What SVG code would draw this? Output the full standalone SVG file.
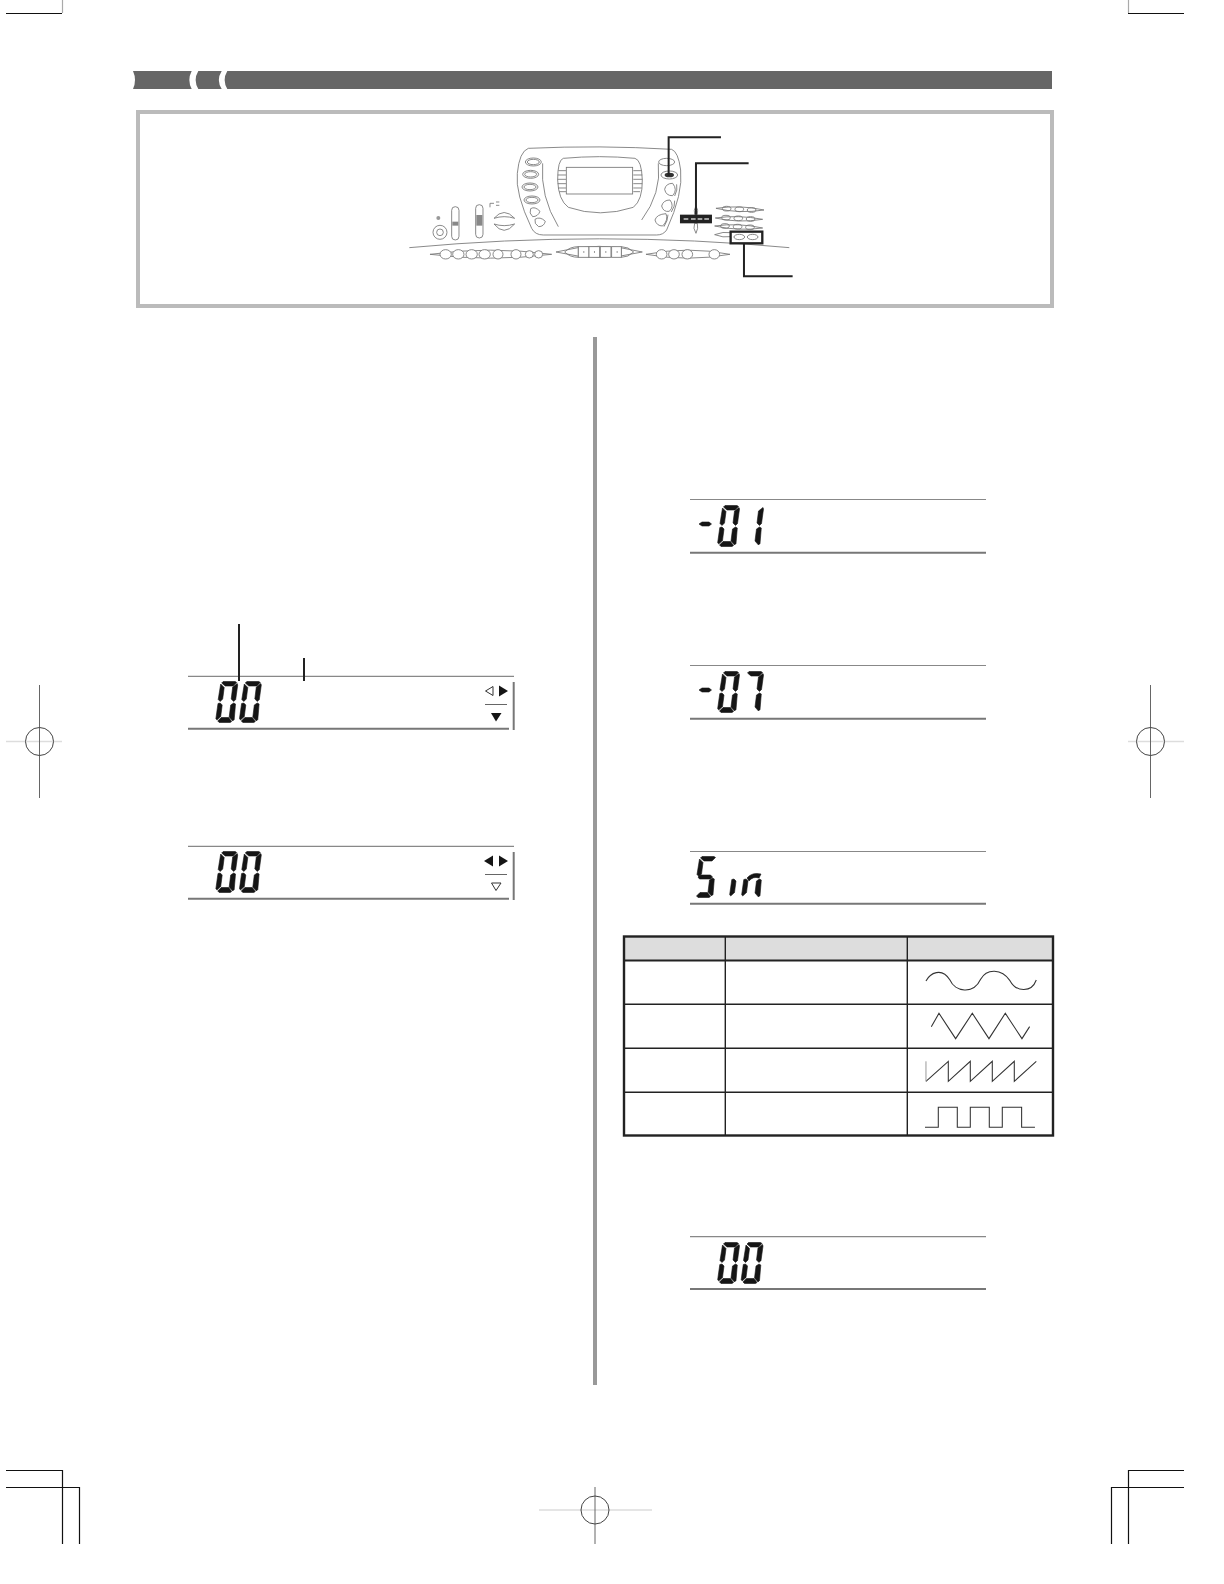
<svg xmlns="http://www.w3.org/2000/svg" width="1224" height="1584" viewBox="0 0 1224 1584">
<style>
.crop{fill:none;stroke:#111;stroke-width:1.2}
.reg{fill:none;stroke:#444;stroke-width:1}
.regl{stroke:#ddd;stroke-width:1.5}
.regv{stroke:#666;stroke-width:1}
.seg{fill:#151515;stroke:#151515;stroke-width:0.6}
.top{stroke:#888;stroke-width:1.2}
.bot{stroke:#777;stroke-width:2}
.kb{fill:none;stroke:#777;stroke-width:2.6}
.kbw{fill:#fff;stroke:#777;stroke-width:2.6}
.lead{fill:none;stroke:#222;stroke-width:6}
.cell{fill:none;stroke:#222;stroke-width:1.4}
.wave{fill:none;stroke:#333;stroke-width:3.2}
</style>
<defs>
<path id="sa" d="M7.5,0.5L19.5,0.5L21,1.5L17.5,5L9.5,5L6,2Z"/>
<path id="sf" d="M5,3L8.5,6.5L7,18L4.5,20.5L2.5,18.5Z"/>
<path id="sb" d="M21.5,2.5L22,4L20,18.5L18,20.5L15.5,18L17,6Z"/>
<path id="se" d="M2.3,22.5L4.5,22L6.5,24L5,35.5L1.2,39L0.2,37.5Z"/>
<path id="sc" d="M18,22L19.8,23L18.5,38.5L17,40L13.5,36L15,24Z"/>
<path id="sd" d="M2,40L5.5,36.5L13,36.5L16,40.5L14.5,41.5L3.5,41.5Z"/>
<path id="sg" d="M6,19L16,19L18,21L16,23L5,23L3.5,21Z"/>
<g id="d0" class="seg"><use href="#sa"/><use href="#sb"/><use href="#sc"/><use href="#sd"/><use href="#se"/><use href="#sf"/></g>
<g id="d1" class="seg"><use href="#sb"/><use href="#sc"/></g>
<g id="d7" class="seg"><use href="#sa"/><use href="#sb"/><use href="#sc"/></g>
<path id="minus" class="seg" d="M699,524L702,522L709,522L711.5,524L709,526L702,526Z"/>
</defs>

<g id="crop-marks">
<path class="crop" d="M6,13.5H62"/><path d="M62.5,0V13" stroke="#aaa" stroke-width="1.2"/>
<path class="crop" d="M1128,13.5H1184"/><path d="M1128.5,0V13" stroke="#aaa" stroke-width="1.2"/>
<path class="crop" d="M6,1470.5H62.5V1544M6,1487.5H79.5V1544"/>
<path class="crop" d="M1184,1470.5H1128.5V1544M1184,1487.5H1111.5V1544"/>
</g>
<g id="registration-marks">
<path class="regl" d="M6,741.5H62M1128,741.5H1184M539,1510H652"/>
<path class="regv" d="M39.5,685V798M1150.5,685V798M595,1487V1544"/>
<circle class="reg" cx="39.5" cy="741.5" r="14"/>
<circle class="reg" cx="1150.5" cy="741.5" r="14"/>
<circle class="reg" cx="595" cy="1510" r="14"/>
</g>

<g id="header-bar">
<rect x="133" y="71" width="919" height="18" fill="#666"/>
<path fill="#fff" d="M133,71Q137,80 133,89L132,89L132,71Z"/>
<path fill="#fff" d="M191.7,71Q187,80 191.7,89L198.3,89Q193,80 198.3,71Z"/>
<path fill="#fff" d="M221.7,71Q216,80 221.7,89L227.3,89Q222,80 227.3,71Z"/>
</g>

<rect id="panel" x="138" y="112" width="914" height="194" fill="#fff" stroke="#bbb" stroke-width="4"/>
<rect id="column-divider" x="593" y="337" width="4" height="1048" fill="#999"/>

<g id="keyboard" transform="translate(400,120) scale(0.3333)">
<path class="kb" d="M28,383Q600,330 1168,383"/>
<path class="kb" d="M385,85Q600,75 815,88Q835,95 842,150Q850,220 800,330Q790,345 770,345L430,345Q405,345 395,325Q345,220 352,160Q358,95 385,85Z"/>
<path class="kb" d="M490,115Q600,105 705,115Q725,120 727,180Q728,240 700,262Q600,295 505,262Q475,240 473,180Q473,120 490,115Z"/>
<rect class="kbw" x="499" y="142" width="199" height="80"/>
<path class="kb" d="M475,152H498M473,165H498M473,178H498M473,191H498M475,204H498M478,215H498M700,152H725M700,165H727M700,178H727M700,191H727M700,204H725M700,215H720"/>
<path class="kb" d="M428,130Q420,230 475,320M775,130Q785,220 725,300"/>
<g id="left-buttons">
<ellipse class="kb" cx="400" cy="126" rx="24" ry="12"/><ellipse class="kb" cx="400" cy="126" rx="18" ry="8"/>
<ellipse class="kb" cx="392" cy="163" rx="24" ry="12"/><ellipse class="kb" cx="392" cy="163" rx="18" ry="8"/>
<ellipse class="kb" cx="390" cy="201" rx="24" ry="12"/><ellipse class="kb" cx="390" cy="201" rx="18" ry="8"/>
<ellipse class="kb" cx="396" cy="240" rx="24" ry="12"/><ellipse class="kb" cx="396" cy="240" rx="18" ry="8"/>
<path class="kb" d="M392,266Q405,258 420,274Q414,290 398,290Q386,280 392,266Z"/>
<path class="kb" d="M405,298Q420,288 436,304Q432,320 416,320Q402,312 405,298Z"/>
</g>
<g id="right-buttons">
<ellipse class="kb" cx="800" cy="126" rx="24" ry="11"/>
<ellipse class="kb" cx="808" cy="165" rx="25" ry="12"/><ellipse cx="808" cy="165" rx="14" ry="7" fill="#333"/>
<path class="kb" d="M818,190Q798,190 794,208Q798,228 818,227Q834,210 818,190Z"/>
<path class="kb" d="M810,240Q790,240 785,258Q790,277 808,274Q824,258 810,240Z"/>
<path class="kb" d="M798,281Q770,283 765,300Q770,318 788,318Q806,300 798,281Z"/>
<path class="kb" d="M830,193Q834,210 824,228M824,242Q826,258 814,276M804,284Q804,302 792,320"/>
</g>
<g id="left-controls">
<circle cx="115" cy="294" r="6" fill="#999"/>
<circle class="kb" cx="120" cy="337" r="21"/><circle class="kb" cx="120" cy="337" r="10"/>
<rect class="kb" x="155" y="260" width="22" height="100" rx="11"/><rect fill="#888" x="157" y="305" width="18" height="12"/>
<rect class="kb" x="227" y="254" width="22" height="100" rx="11"/><rect fill="#888" x="229" y="285" width="18" height="32"/>
<path class="kb" d="M270,262V250H282M288,246H298M288,256H298"/>
<path class="kb" d="M282,295Q312,260 344,295Q312,285 282,295Z"/>
<path class="kb" d="M282,312Q312,322 344,312Q312,350 282,312Z"/>
</g>
<g id="bottom-row">
<path class="kb" d="M90,403Q270,378 455,403Q270,426 90,403Z"/>
<ellipse class="kbw" cx="137" cy="403" rx="17" ry="14"/><ellipse class="kbw" cx="175" cy="403" rx="17" ry="14"/><ellipse class="kbw" cx="215" cy="403" rx="17" ry="14"/><ellipse class="kbw" cx="254" cy="403" rx="17" ry="14"/><ellipse class="kbw" cx="294" cy="403" rx="15" ry="14"/><ellipse class="kbw" cx="348" cy="403" rx="15" ry="14"/><ellipse class="kbw" cx="388" cy="403" rx="12" ry="11"/><ellipse class="kbw" cx="416" cy="403" rx="12" ry="11"/>
<path class="kb" d="M468,396Q598,362 727,396Q598,428 468,396Z"/>
<path class="kb" d="M494,396Q510,380 535,380V412Q510,412 494,396ZM701,396Q685,380 664,380V412Q685,412 701,396Z"/>
<rect class="kbw" x="535" y="380" width="32" height="32"/><rect class="kbw" x="567" y="380" width="32" height="32"/><rect class="kbw" x="601" y="380" width="32" height="32"/><rect class="kbw" x="635" y="380" width="29" height="32"/>
<path d="M550,396h3M582,396h3M616,396h3M650,396h3" stroke="#333" stroke-width="3"/>
<path class="kb" d="M738,403Q865,378 990,403Q865,426 738,403Z"/>
<ellipse class="kbw" cx="785" cy="403" rx="16" ry="14"/><ellipse class="kbw" cx="822" cy="403" rx="16" ry="14"/><ellipse class="kbw" cx="862" cy="403" rx="16" ry="14"/><ellipse class="kbw" cx="943" cy="403" rx="16" ry="14"/>
</g>
<g id="number-keys">
<path class="kb" d="M948,265Q1020,254 1092,270Q1020,282 948,265ZM946,294Q1015,284 1088,298Q1015,310 946,294ZM944,318Q1015,308 1088,324Q1015,334 944,318ZM944,344Q970,334 992,338V350Q970,354 944,344Z"/>
<ellipse class="kb" cx="980" cy="266" rx="13" ry="7"/><ellipse class="kb" cx="1018" cy="268" rx="13" ry="7"/><ellipse class="kb" cx="1055" cy="270" rx="13" ry="7"/>
<ellipse class="kb" cx="978" cy="293" rx="13" ry="7"/><ellipse class="kb" cx="1015" cy="295" rx="13" ry="7"/><ellipse class="kb" cx="1052" cy="297" rx="13" ry="7"/>
<ellipse class="kb" cx="975" cy="318" rx="13" ry="7"/><ellipse class="kb" cx="1013" cy="320" rx="13" ry="7"/><ellipse class="kb" cx="1050" cy="322" rx="13" ry="7"/>
</g>
<g id="highlighted-keys">
<path class="kb" d="M888,340Q878,325 884,310H892Q896,325 888,340ZM888,258Q880,270 884,284H892Q896,270 888,258Z"/>
<rect x="840" y="284" width="96" height="26" fill="#222"/>
<path d="M851,297h14M873,297h14M893,297h14M913,297h14" stroke="#ccc" stroke-width="5"/>
<rect x="992" y="335" width="95" height="35" fill="#fff" stroke="#222" stroke-width="7"/>
<ellipse class="kb" cx="1018" cy="351" rx="16" ry="8"/><ellipse class="kb" cx="1058" cy="351" rx="16" ry="8"/>
</g>
<g id="connectors">
<path class="lead" d="M963,52H806V168"/>
<path class="lead" d="M1046,130H888V284"/>
<path class="lead" d="M1178,469H1032V370"/>
</g>
</g>

<g id="display-1">
<path class="top" d="M188,676.3H514"/><path class="bot" d="M188,728.7H509"/><path class="bot" d="M513.7,682V730"/>
<use href="#d0" x="215.7" y="681"/><use href="#d0" x="239.3" y="681"/>
<path d="M239,624V681M304,658V681" fill="none" stroke="#222" stroke-width="2"/>
<path d="M485.5,691L493,686.5V695.5Z" fill="#fff" stroke="#333"/>
<path d="M508,691L499,685.5V696.5Z" fill="#151515"/>
<path d="M485,704.5H507" stroke="#666"/>
<path d="M491,713H501.5L496,721.5Z" fill="#151515"/>
</g>
<g id="display-2">
<path class="top" d="M188,846.3H514"/><path class="bot" d="M188,898.7H509"/><path class="bot" d="M513.7,852V900"/>
<use href="#d0" x="215.7" y="851"/><use href="#d0" x="239.3" y="851"/>
<path d="M484,861L493,855.5V866.5Z" fill="#151515"/>
<path d="M508,861L499,855.5V866.5Z" fill="#151515"/>
<path d="M485,874.5H507" stroke="#666"/>
<path d="M491.5,883H501L496,890.5Z" fill="#fff" stroke="#333"/>
</g>
<g id="display-3">
<path class="top" d="M690,499.5H986"/><path class="bot" d="M690,552.7H986"/>
<use href="#minus"/><use href="#d0" x="717.5" y="505"/><use href="#d1" x="741.5" y="505"/>
</g>
<g id="display-4">
<path class="top" d="M690,665.5H986"/><path class="bot" d="M690,718.7H986"/>
<use href="#minus" y="166"/><use href="#d0" x="717.5" y="671"/><use href="#d7" x="741.5" y="671"/>
</g>
<g id="display-5">
<path class="top" d="M690,851.5H986"/><path class="bot" d="M690,903.7H986"/>
<g class="seg" transform="translate(694.5,856)">
<use href="#sa"/><use href="#sf"/><use href="#sg"/><use href="#sc"/><use href="#sd"/>
</g>
<use href="#se" class="seg" x="729.5" y="857"/>
<use href="#se" class="seg" x="741.5" y="857"/>
<use href="#sc" class="seg" x="741.5" y="857"/>
<path class="seg" d="M747,878Q752,872 761,874L759,878Q753,876 749,881Z"/>
</g>
<g id="display-6">
<path class="top" d="M690,1236.7H986"/><path class="bot" d="M690,1289H986"/>
<use href="#d0" x="717.5" y="1242"/><use href="#d0" x="741" y="1242"/>
</g>

<g id="waveform-table">
<rect x="624" y="936" width="429" height="25" fill="#ddd"/>
<path class="cell" d="M725.3,937V1136M907.3,937V1136M624,1004.3H1053M624,1048.3H1053M624,1092.3H1053"/>
<path d="M624,960.5H1053" stroke="#222" stroke-width="2.2"/>
<rect x="624" y="936.5" width="429" height="199" fill="none" stroke="#222" stroke-width="2.4"/>
<g transform="translate(610,920) scale(0.3333)">
<path class="wave" d="M948,183C960,160 995,140 1020,180C1035,215 1090,225 1112,178C1130,145 1175,145 1200,182C1220,218 1265,218 1279,180"/>
<path class="wave" d="M964,320L987,280L1037,356L1087,280L1137,356L1186,280L1236,356L1259,320"/>
<path class="wave" d="M948,484L1015,424V484L1081,424V484L1147,424V484L1213,424V484L1279,424"/>
<path d="M948,424V484" stroke="#999" stroke-width="3" fill="none"/>
<path class="wave" d="M945,622H985V562H1042V622H1081V562H1138V622H1177V562H1235V622H1275"/>
</g>
</g>
</svg>
